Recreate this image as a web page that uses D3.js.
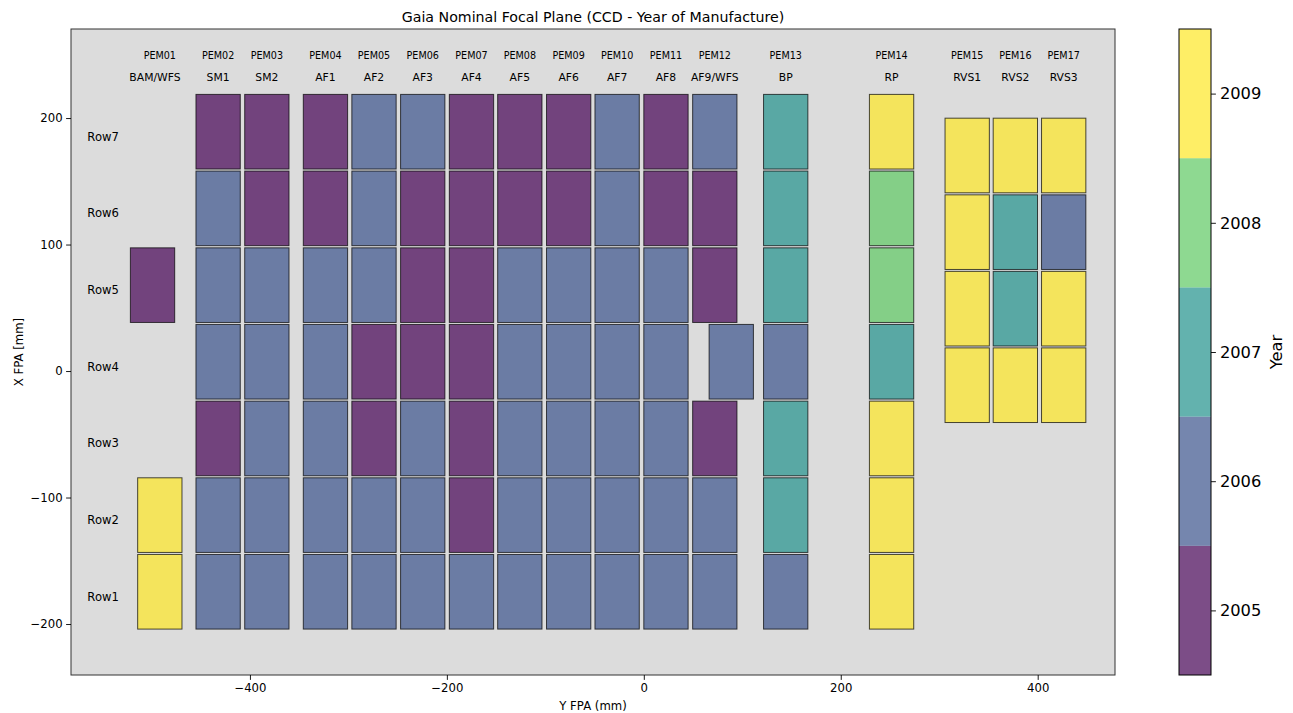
<!DOCTYPE html>
<html>
<head>
<meta charset="utf-8">
<script src="https://cdn.jsdelivr.net/npm/d3@7"></script>
<style>
  html, body { margin: 0; padding: 0; background: #ffffff; }
  svg { display: block; font-family: "DejaVu Sans", sans-serif; }
</style>
</head>
<body>
<svg id="chart" width="1293" height="713"></svg>
<script>
// ---------------- DATA ----------------
const columnNames = ["BAM/WFS","SM1","SM2","AF1","AF2","AF3","AF4","AF5","AF6","AF7","AF8","AF9/WFS","BP","RP","RVS1","RVS2","RVS3"];
const pemNames = ["PEM01","PEM02","PEM03","PEM04","PEM05","PEM06","PEM07","PEM08","PEM09","PEM10","PEM11","PEM12","PEM13","PEM14","PEM15","PEM16","PEM17"];
// column centres along Y FPA (mm)
const columnCentres = [-491.5,-432.3,-382.8,-323.3,-274.0,-224.5,-175.0,-125.9,-76.3,-27.1,22.5,72.1,144.1,251.6,328.4,377.3,426.4];
// label position overrides along Y FPA (mm)
const nameLabelCentres = [-496.4,-432.3,-382.8,-323.3,-274.0,-224.5,-175.0,-125.9,-76.3,-27.1,22.5,72.1,144.1,251.6,328.4,377.3,426.4];
const rowNames = ["Row1","Row2","Row3","Row4","Row5","Row6","Row7"];
// row centres along X FPA (mm)
const rowCentres = [-174.5,-113.9,-53.3,7.35,67.9,128.6,189.2];
// RVS rows (Row4..Row7) sit at different X FPA centres
const rvsRowCentres = [null,null,null,-11.2,49.3,109.8,170.4];
// Year of manufacture per row (Row1..Row7), per column (null = no CCD)
const yearsRow1 = [2009,2006,2006,2006,2006,2006,2006,2006,2006,2006,2006,2006,2006,2009,null,null,null];
const yearsRow2 = [2009,2006,2006,2006,2006,2006,2005,2006,2006,2006,2006,2006,2007,2009,null,null,null];
const yearsRow3 = [null,2005,2006,2006,2005,2006,2005,2006,2006,2006,2006,2005,2007,2009,null,null,null];
const yearsRow4 = [null,2006,2006,2006,2005,2005,2005,2006,2006,2006,2006,2006,2006,2007,2009,2009,2009];
const yearsRow5 = [2005,2006,2006,2006,2006,2005,2005,2006,2006,2006,2006,2005,2007,2008,2009,2007,2009];
const yearsRow6 = [null,2006,2005,2005,2006,2005,2005,2005,2005,2006,2005,2005,2007,2008,2009,2007,2006];
const yearsRow7 = [null,2005,2005,2005,2006,2006,2005,2005,2005,2006,2005,2006,2007,2009,2009,2009,2009];
const yearsByRow = [yearsRow1,yearsRow2,yearsRow3,yearsRow4,yearsRow5,yearsRow6,yearsRow7];
// CCDs shifted along Y FPA (mm)
const shiftedCells = [
  {column: "BAM/WFS", row: "Row5", centre: -498.9},
  {column: "AF9/WFS", row: "Row4", centre: 88.8}
];
const colorbarYears = [2005,2006,2007,2008,2009];
const xTicks = [-400,-200,0,200,400];
const yTicks = [-200,-100,0,100,200];
const ccdWidth = 45;   // mm along Y FPA
const ccdHeight = 59;  // mm along X FPA

// ---------------- LAYOUT ----------------
const svg = d3.select("#chart");
const axL = 71, axR = 1115, axT = 29, axB = 675;
const x = d3.scaleLinear().domain([-581.7, 478.5]).range([axL, axR]);
const y = d3.scaleLinear().domain([-240.3, 270.4]).range([axB, axT]);
const color = d3.scaleSequential(d3.interpolateViridis).domain([2005, 2009]);
const fmt = d => (d < 0 ? "\u2212" + Math.abs(d) : String(d));

// axes background
svg.append("rect").attr("x", axL).attr("y", axT)
  .attr("width", axR - axL).attr("height", axB - axT)
  .attr("fill", "#dcdcdc");

// cells
const cells = [];
yearsByRow.forEach((row, ri) => {
  row.forEach((yr, ci) => {
    if (yr == null) return;
    const isRVS = columnNames[ci].startsWith("RVS");
    let cx = columnCentres[ci];
    const shift = shiftedCells.find(s => s.column === columnNames[ci] && s.row === rowNames[ri]);
    if (shift) cx = shift.centre;
    const cy = isRVS ? rvsRowCentres[ri] : rowCentres[ri];
    cells.push({cx, cy, yr});
  });
});
svg.append("g").selectAll("rect").data(cells).join("rect")
  .attr("x", d => x(d.cx - ccdWidth / 2))
  .attr("y", d => y(d.cy + ccdHeight / 2))
  .attr("width", d => x(d.cx + ccdWidth / 2) - x(d.cx - ccdWidth / 2))
  .attr("height", d => y(d.cy - ccdHeight / 2) - y(d.cy + ccdHeight / 2))
  .attr("fill", d => color(d.yr))
  .attr("fill-opacity", 0.7)
  .attr("stroke", "#000")
  .attr("stroke-opacity", 0.7)
  .attr("stroke-width", 1);

// column labels
const labY1 = 249.8, labY2 = 231.9;
svg.append("g").selectAll("text").data(pemNames).join("text")
  .attr("x", (d, i) => x(columnCentres[i]))
  .attr("y", y(labY1))
  .attr("text-anchor", "middle").attr("dominant-baseline", "central")
  .attr("font-size", "9.6px").attr("fill", "#000")
  .text(d => d);
svg.append("g").selectAll("text").data(columnNames).join("text")
  .attr("x", (d, i) => x(nameLabelCentres[i]))
  .attr("y", y(labY2))
  .attr("text-anchor", "middle").attr("dominant-baseline", "central")
  .attr("font-size", "10.8px").attr("fill", "#000")
  .text(d => d);

// row labels
svg.append("g").selectAll("text").data(rowNames).join("text")
  .attr("x", x(-565.1))
  .attr("y", (d, i) => y(rowCentres[i]) + 5)
  .attr("text-anchor", "start").attr("dominant-baseline", "central")
  .attr("font-size", "11.6px").attr("fill", "#000")
  .text(d => d);

// spines
svg.append("rect").attr("x", axL).attr("y", axT)
  .attr("width", axR - axL).attr("height", axB - axT)
  .attr("fill", "none").attr("stroke", "#333").attr("stroke-width", 1);

// axes
const xAxis = svg.append("g").attr("transform", `translate(0,${axB})`)
  .call(d3.axisBottom(x).tickValues(xTicks).tickSize(4.9).tickPadding(3.5).tickFormat(fmt));
const yAxis = svg.append("g").attr("transform", `translate(${axL},0)`)
  .call(d3.axisLeft(y).tickValues(yTicks).tickSize(4.9).tickPadding(3.5).tickFormat(fmt));
[xAxis, yAxis].forEach(g => {
  g.select(".domain").remove();
  g.selectAll(".tick line").attr("stroke", "#000").attr("stroke-width", 0.9);
  g.selectAll(".tick text").attr("font-size", "11.7px").attr("fill", "#000")
    .attr("font-family", "DejaVu Sans, sans-serif");
});

// axis titles
svg.append("text").attr("x", (axL + axR) / 2).attr("y", 710)
  .attr("text-anchor", "middle").attr("font-size", "11.7px").text("Y FPA (mm)");
svg.append("text").attr("transform", `translate(22.5,${(axT + axB) / 2}) rotate(-90)`)
  .attr("text-anchor", "middle").attr("font-size", "11.7px").text("X FPA [mm]");
svg.append("text").attr("x", (axL + axR) / 2).attr("y", 21.5)
  .attr("text-anchor", "middle").attr("font-size", "14.2px").text("Gaia Nominal Focal Plane (CCD - Year of Manufacture)");

// colorbar
const cbLeft = 1179, cbRight = 1211;
const cbY = d3.scaleLinear().domain([2004.5, 2009.5]).range([axB, axT]);
svg.append("g").selectAll("rect").data(colorbarYears).join("rect")
  .attr("x", cbLeft).attr("width", cbRight - cbLeft)
  .attr("y", d => cbY(d + 0.5)).attr("height", d => cbY(d - 0.5) - cbY(d + 0.5))
  .attr("fill", d => color(d)).attr("fill-opacity", 0.7);
svg.append("rect").attr("x", cbLeft).attr("y", axT)
  .attr("width", cbRight - cbLeft).attr("height", axB - axT)
  .attr("fill", "none").attr("stroke", "#000").attr("stroke-width", 1);
const cbAxis = svg.append("g").attr("transform", `translate(${cbRight},0)`)
  .call(d3.axisRight(cbY).tickValues(colorbarYears).tickSize(4.9).tickPadding(4).tickFormat(d3.format("d")));
cbAxis.select(".domain").remove();
cbAxis.selectAll(".tick line").attr("stroke", "#000").attr("stroke-width", 0.9);
cbAxis.selectAll(".tick text").attr("font-size", "16.3px").attr("fill", "#000")
  .attr("font-family", "DejaVu Sans, sans-serif");
svg.append("text").attr("transform", `translate(1281.5,${(axT + axB) / 2}) rotate(-90)`)
  .attr("text-anchor", "middle").attr("font-size", "16.3px").text("Year");
</script>
</body>
</html>
